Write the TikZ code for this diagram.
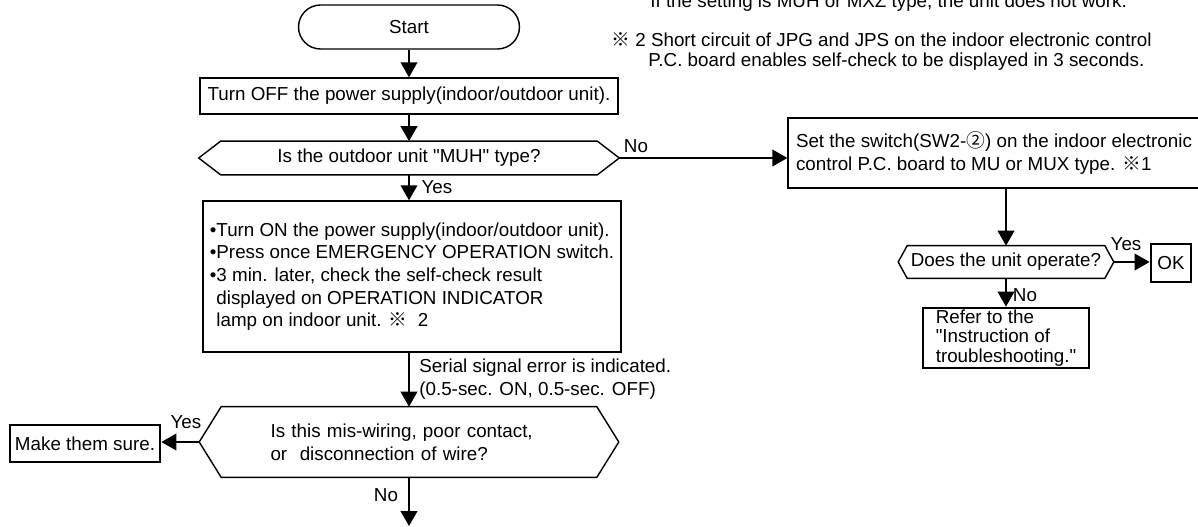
\documentclass[tikz,border=0pt]{standalone}
\usepackage{fontspec}
\setmainfont{Liberation Sans}
\newfontfamily\cjk{Noto Sans CJK JP}
\usetikzlibrary{arrows.meta}
\tikzset{
    edgeline/.style = {
        line width=0.8pt,
        },
    flow/.style = {
        line width=0.8pt,
        -{Triangle[length=8.5pt, width=9.5pt]},
        },
    proc/.style = {
        draw,
        line width=0.8pt,
        align=left,
        inner sep=0pt,
        },
    bold proc/.style = {
        draw,
        line width=1.6pt,
        align=center,
        inner sep=0pt,
        },
    decision/.style = {
        align=left,
        inner sep=0pt,
        },
    lbl/.style = {
        inner sep=0pt,
        },
}
% hexagon round a decision node, with its two points named <node>-w and <node>-e
\newcommand{\hexframe}[2]{%
    \draw [edgeline] (#1.north west) -- ([xshift=-#2]#1.west) coordinate (#1-w) -- (#1.south west)
        -- (#1.south east) -- ([xshift=#2]#1.east) coordinate (#1-e) -- (#1.north east) -- cycle;
}

\begin{document}
\begin{tikzpicture}
            [
                x=0.02cm, y=-0.02cm,
                font=\fontsize{10.7pt}{12.9pt}\selectfont,
            ]
            \useasboundingbox (0,0) rectangle (1198,527);

            % notes
            \node [lbl, anchor=base west] (note1) at (650,8) {If the setting is MUH or MXZ type, the unit does not work.};
            \node [lbl, anchor=west, align=left, font=\fontsize{10.7pt}{11.9pt}\selectfont] (note2) at (611,51.5)
                {{\cjk ※} 2 Short circuit of JPG and JPS on the indoor electronic control\\\hspace*{0.74cm}P.C. board enables self-check to be displayed in 3 seconds.};

            % main column
            \node [proc, align=center, rounded corners=0.44cm, minimum width=4.42cm, minimum height=0.88cm] (start) at (409,27) {Start};
            \node [proc, align=center, minimum width=8.36cm, minimum height=0.72cm] (off) at (409,96) {Turn OFF the power supply(indoor/outdoor unit).};
            \node [decision, align=center, minimum width=7.52cm, minimum height=0.66cm] (muh) at (409,158) {Is the outdoor unit \textquotedbl MUH\textquotedbl{} type?};
            \hexframe{muh}{0.44cm}
            \node [proc, minimum width=8.36cm, minimum height=3.02cm] (on) at (412,276.5)
                {\textbullet Turn ON the power supply(indoor/outdoor unit).\\
                 \textbullet Press once EMERGENCY OPERATION switch.\\
                 \textbullet 3 min. later, check the self-check result\\
                 \hphantom{\textbullet}displayed on OPERATION INDICATOR\\
                 \hphantom{\textbullet}lamp on indoor unit. {\cjk ※}~~2};
            \node [decision, minimum width=7.5cm, minimum height=1.4cm, text width=5.54cm, inner xsep=0.98cm,
                   font=\fontsize{10.7pt}{13.1pt}\selectfont] (mis) at (409,442)
                {Is this mis-wiring, poor contact,\\or~~disconnection of wire?};
            \hexframe{mis}{0.44cm}
            \node [bold proc, minimum width=3cm, minimum height=0.74cm] (sure) at (85,443.5) {Make them sure.};
            \coordinate (down) at (409,526);

            % right branch
            \node [proc, minimum width=8.24cm, minimum height=1.4cm, font=\fontsize{10.7pt}{13.1pt}\selectfont] (sw) at (994,153)
                {Set the switch(SW2-{\cjk ②}) on the indoor electronic\\control P.C. board to MU or MUX type. {\cjk ※}1};
            \node [decision, align=center, minimum width=3.94cm, minimum height=0.64cm] (op) at (1006,262) {Does the unit operate?};
            \hexframe{op}{0.18cm}
            \node [bold proc, minimum width=0.8cm, minimum height=0.76cm] (ok) at (1171,263) {OK};
            \node [bold proc, align=left, minimum width=3.32cm, minimum height=1.2cm, font=\fontsize{10.7pt}{11.1pt}\selectfont] (ref) at (1006,338)
                {Refer to the\\\textquotedbl Instruction of\\troubleshooting.\textquotedbl};

            % connectors
            \draw [flow] (start) -- (off);
            \draw [flow] (off) -- (muh);
            \draw [flow] (muh.south) -- (muh.south |- on.north);
            \draw [flow] (on.south -| mis.north) -- (mis.north);
            \draw [flow] (mis-w) -- (mis-w -| sure.east);
            \draw [flow] (mis) -- (down);
            \draw [flow] (muh-e) -- (muh-e -| sw.west);
            \draw [flow] (op.north |- sw.south) -- (op);
            \draw [flow] (op-e) -- (op-e -| ok.west);
            \draw [flow] (op) -- (ref);

            % labels
            \node [lbl] (yes1) at (437,187) {Yes};
            \node [lbl, anchor=west, align=left, font=\fontsize{10.7pt}{13.1pt}\selectfont] (serial) at (419,379.5)
                {Serial signal error is indicated.\\(0.5-sec. ON, 0.5-sec. OFF)};
            \node [lbl] (no1) at (636,146) {No};
            \node [lbl] (yes2) at (186,422) {Yes};
            \node [lbl] (no2) at (386,495) {No};
            \node [lbl] (yes3) at (1126,244) {Yes};
            \node [lbl] (no3) at (1025,295) {No};
\end{tikzpicture}
\end{document}
